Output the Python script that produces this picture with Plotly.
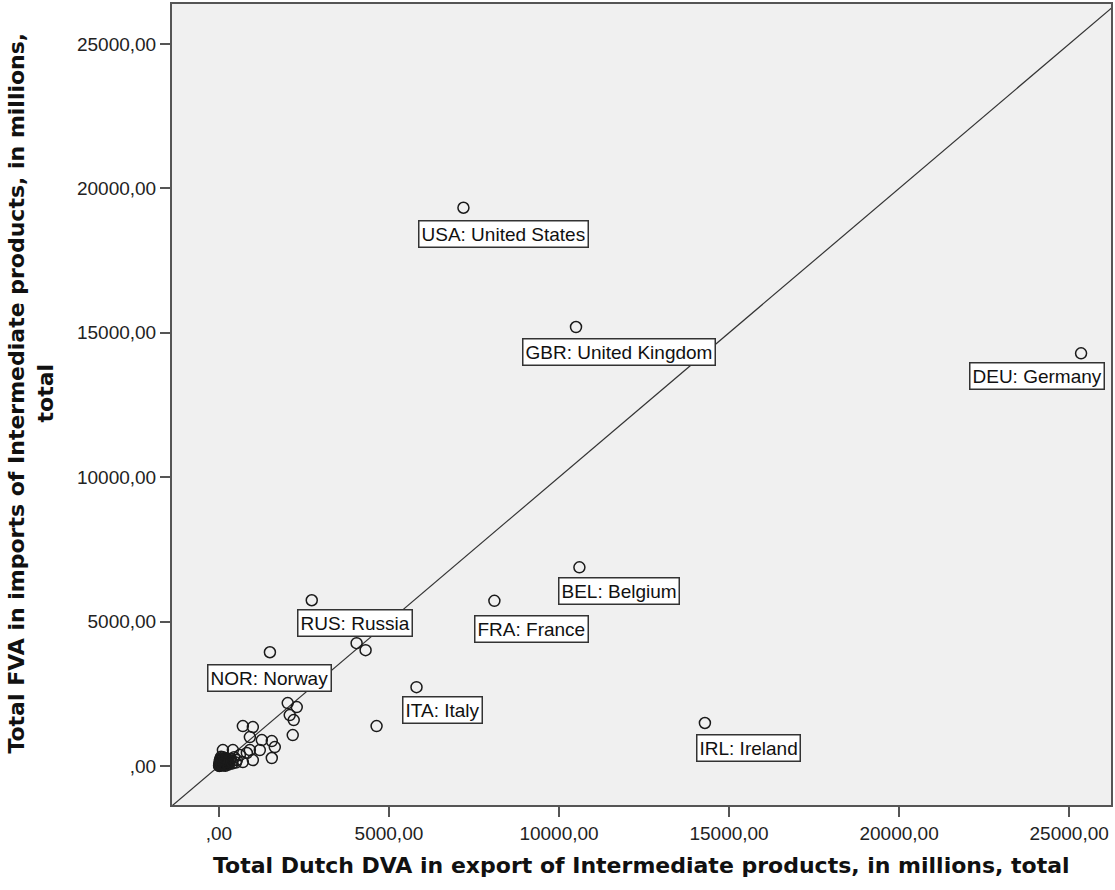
import plotly.graph_objects as go

# Labelled countries
codes = ["USA", "GBR", "DEU", "BEL", "FRA", "RUS", "NOR", "ITA", "IRL"]
names = ["United States", "United Kingdom", "Germany", "Belgium", "France",
         "Russia", "Norway", "Italy", "Ireland"]
dva_export = [7190, 10500, 25350, 10600, 8100, 2730, 1500, 5810, 14290]
fva_import = [19330, 15200, 14290, 6880, 5720, 5740, 3940, 2730, 1490]

# Remaining (unlabelled) partner countries
other_dva = [4636, 4049, 4313, 2024, 2289, 2083, 2200, 2171, 704, 998, 910,
             1262, 1555, 1643, 1555, 1203, 910, 822, 998, 616, 411, 117, 704,
             528, 30, 60, 100, 150, 200, 250, 20, 80, 120, 300, 350, 180, 10,
             40, 5, 15, 45, 70, 90, 130, 160, 210, 240, 270, 25, 55, 110, 140,
             190, 230, 65, 35, 85, 170, 280, 320, 400, 450, 380, 500]
other_fva = [1383, 4253, 4011, 2179, 2040, 1764, 1591, 1072, 1383, 1349, 1003,
             899, 865, 657, 277, 553, 553, 450, 207, 380, 553, 553, 138, 207,
             120, 80, 150, 60, 250, 180, 20, 40, 300, 120, 250, 200, 5, 60, 10,
             90, 30, 200, 110, 40, 140, 90, 60, 230, 170, 260, 20, 190, 10, 130,
             320, 230, 70, 280, 50, 180, 90, 300, 160, 120]

# Axis ticks
tick_vals = [0, 5000, 10000, 15000, 20000, 25000]
tick_text = [",00", "5000,00", "10000,00", "15000,00", "20000,00", "25000,00"]
x_range = [-1379, 26230]
y_range = [-1349, 26384]

# Pixel offsets of each label box relative to its point (layout only)
label_offsets = {
    "USA": (40, 26), "GBR": (43, 25), "DEU": (-44, 23), "BEL": (40, 24),
    "FRA": (37, 28), "RUS": (43, 23), "NOR": (0, 26), "ITA": (26, 23),
    "IRL": (44, 25),
}

marker_style = dict(symbol="circle-open", size=11, color="#1a1a1a",
                    line=dict(width=1.5, color="#1a1a1a"))

fig = go.Figure()

# Reference line y = x across the full plotting range
diag = [min(x_range[0], y_range[0]), max(x_range[1], y_range[1])]
fig.add_trace(go.Scatter(x=diag, y=diag, mode="lines",
                         line=dict(color="#333333", width=1.2),
                         hoverinfo="skip", showlegend=False))

fig.add_trace(go.Scatter(x=other_dva, y=other_fva, mode="markers",
                         marker=marker_style, showlegend=False))
fig.add_trace(go.Scatter(x=dva_export, y=fva_import, mode="markers",
                         marker=marker_style, showlegend=False,
                         text=[f"{c}: {n}" for c, n in zip(codes, names)]))

for c, n, xv, yv in zip(codes, names, dva_export, fva_import):
    dx, dy = label_offsets[c]
    fig.add_annotation(x=xv, y=yv, xref="x", yref="y", text=f"{c}: {n}",
                       showarrow=False, xanchor="center", yanchor="middle",
                       xshift=dx, yshift=-dy,
                       font=dict(family="Liberation Sans, Arial", size=19,
                                 color="#111111"),
                       bgcolor="white", bordercolor="#333333",
                       borderwidth=1.5, borderpad=2)

title_font = dict(family="DejaVu Sans", size=22, color="#111111", weight="bold")
fig.add_annotation(text="Total Dutch DVA in export of Intermediate products, in millions, total",
                   xref="paper", yref="paper", x=0.5, y=-0.076,
                   xanchor="center", yanchor="middle", showarrow=False,
                   font=title_font)
fig.add_annotation(text="Total FVA in imports of Intermediate products, in millions,<br>total",
                   xref="paper", yref="paper", x=-0.1498, y=0.514,
                   xanchor="center", yanchor="middle", showarrow=False,
                   textangle=-90, font=title_font)

axis_common = dict(showgrid=False, zeroline=False, showline=True, mirror=True,
                   linecolor="#555555", linewidth=2, ticks="outside",
                   ticklen=10, tickwidth=2, tickcolor="#555555",
                   tickvals=tick_vals, ticktext=tick_text,
                   tickfont=dict(family="Liberation Sans, Arial", size=19,
                                 color="#222222"))

fig.update_xaxes(range=x_range, **axis_common)
fig.update_yaxes(range=y_range, **axis_common)

fig.update_layout(width=1115, height=890, autosize=False,
                  margin=dict(l=172, r=2, t=3, b=85),
                  plot_bgcolor="#f0f0f0", paper_bgcolor="white",
                  showlegend=False)

fig.write_html("out.html")
